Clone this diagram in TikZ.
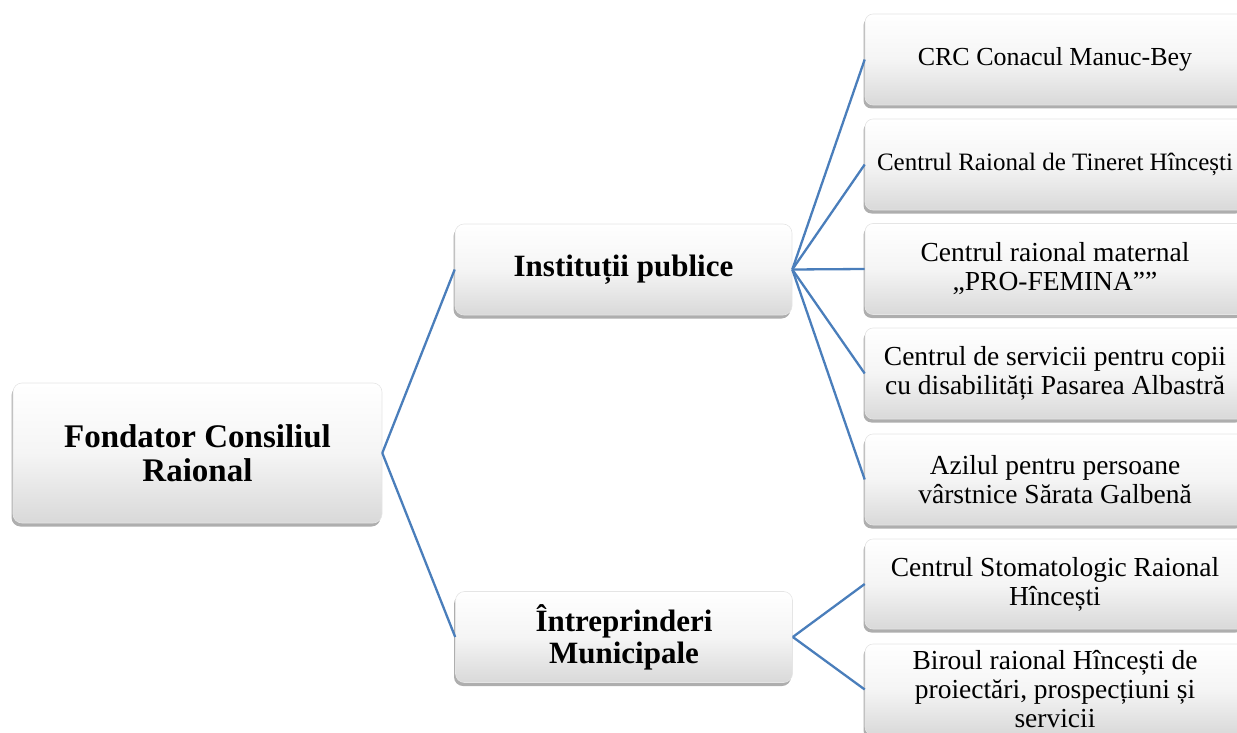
\documentclass[tikz,border=0pt]{standalone}
\usepackage{fontspec}
\setmainfont{Liberation Serif}
\usetikzlibrary{shadows}
\definecolor{linkblue}{HTML}{4A7EBB}
\tikzset{
  boxbase/.style={rectangle, rounded corners=9pt, draw=black!10, line width=0.6pt,
    top color=white, bottom color=black!15, middle color=white!96!black,
    drop shadow={shadow xshift=-1.5pt, shadow yshift=-3.5pt, opacity=0.45, fill=black!70},
    inner sep=0pt, align=center, text=black},
  rootbox/.style={boxbase, minimum width=369pt, minimum height=140pt,
    font=\bfseries\fontsize{33}{34}\selectfont},
  midbox/.style={boxbase, minimum width=337pt, minimum height=91pt,
    font=\bfseries\fontsize{31}{32}\selectfont},
  leafbox/.style={boxbase, rounded corners=8pt, minimum width=380pt, minimum height=91pt,
    font=\fontsize{27.5}{29}\selectfont},
  link/.style={draw=linkblue, line width=2.3pt}
}
\begin{document}
\begin{tikzpicture}[x=1pt,y=-1pt]
\useasboundingbox (0,0) rectangle (1237,733);
\node[rootbox] (root) at (197.5,453) {Fondator Consiliul\\Raional};
\node[midbox] (inst) at (623.5,269.5) {Instituții publice};
\node[midbox] (intr) at (624,637) {Întreprinderi\\Municipale};
\node[leafbox, font=\fontsize{26}{29}\selectfont] (b1) at (1055,59.5) {CRC Conacul Manuc-Bey};
\node[leafbox, font=\fontsize{25}{29}\selectfont] (b2) at (1055,164.5) {Centrul Raional de Tineret Hîncești};
\node[leafbox] (b3) at (1055,269) {Centrul raional maternal\\„PRO-FEMINA””};
\node[leafbox] (b4) at (1055,373.5) {Centrul de servicii pentru copii\\cu disabilități Pasarea Albastră};
\node[leafbox] (b5) at (1055,479.5) {Azilul pentru persoane\\vârstnice Sărata Galbenă};
\node[leafbox, minimum height=90pt] (b6) at (1055,584) {Centrul Stomatologic Raional\\Hîncești};
\node[leafbox] (b7) at (1055,689.5) {Biroul raional Hîncești de\\proiectări, prospecțiuni și\\servicii};
\draw[link] (root.east) -- (inst.west);
\draw[link] (root.east) -- (intr.west);
\foreach \n in {b1,b2,b3,b4,b5} \draw[link] (inst.east) -- (\n.west);
\foreach \n in {b6,b7} \draw[link] (intr.east) -- (\n.west);
\end{tikzpicture}
\end{document}
